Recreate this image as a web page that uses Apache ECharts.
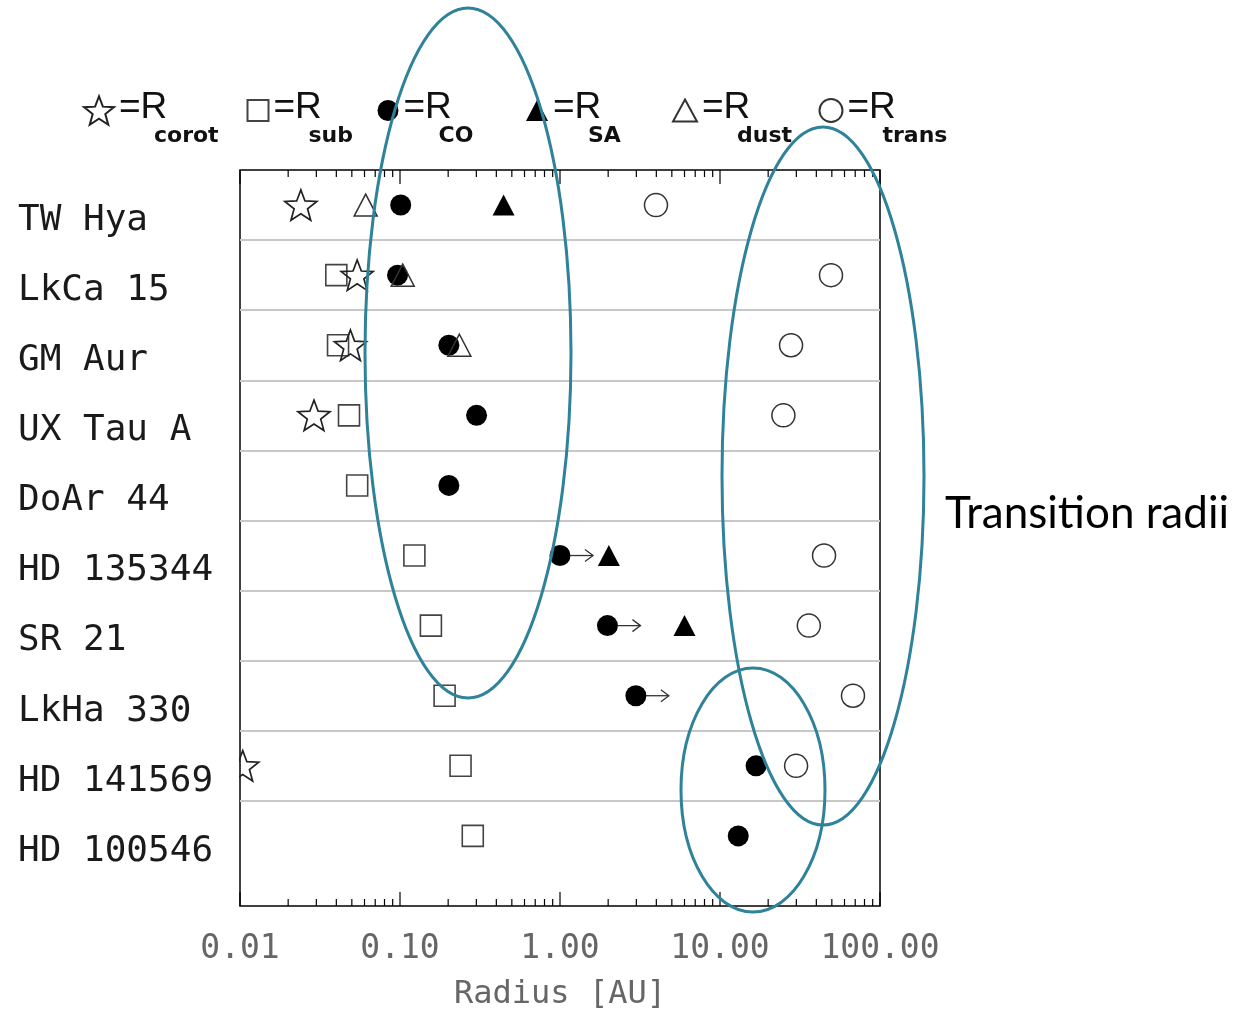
<!DOCTYPE html>
<html><head><meta charset="utf-8">
<script src="https://cdn.jsdelivr.net/npm/echarts@6/dist/echarts.min.js"></script>
<style>html,body{margin:0;padding:0;background:#fff}#c{width:1249px;height:1016px}</style>
</head><body><div id="c"></div>
<script>
// ---- data (radius in AU) ----
const stars = ['TW Hya','LkCa 15','GM Aur','UX Tau A','DoAr 44','HD 135344','SR 21','LkHa 330','HD 141569','HD 100546'];
const rCorot = [0.024, 0.054, 0.049, 0.029, null, null, null, null, 0.0104, null];
const rSub   = [null, 0.040, 0.041, 0.048, 0.054, 0.123, 0.156, 0.19, 0.239, 0.285];
const rCO    = [0.101, 0.0965, 0.202, 0.301, 0.202, 1.0, 1.98, 2.98, 16.8, 13.0];
const coLowerLimit = [false, false, false, false, false, true, true, true, false, false];
const rSA    = [0.444, null, null, null, null, 2.02, 6.0, null, null, null];
const rDust  = [0.061, 0.104, 0.235, null, null, null, null, null, null, null];
const rTrans = [3.98, 49.4, 27.8, 24.9, null, 44.7, 35.9, 67.8, 29.9, null];
const xTickLabels = ['0.01', '0.10', '1.00', '10.00', '100.00'];
const majorTicks = [0.01, 0.1, 1, 10, 100];
const decades = [0.01, 0.1, 1, 10];
const minorMult = [2, 3, 4, 5, 6, 7, 8, 9];

// ---- helpers ----
const pts = arr => arr.map((v, i) => v == null ? null : [v, i + 0.5]).filter(Boolean);
function starPath() {
  const p = [];
  for (let i = 0; i < 10; i++) {
    const r = i % 2 ? 0.42 : 1;
    const a = -Math.PI / 2 + i * Math.PI / 5;
    p.push((50 + 50 * r * Math.cos(a)).toFixed(2) + ',' + (50 + 50 * r * Math.sin(a)).toFixed(2));
  }
  return 'path://M' + p.join('L') + 'Z';
}
const STAR = starPath();
// tick marks: [value, y, length]
const tickMarks = [];
majorTicks.forEach(v => tickMarks.push([v, 0, 14]));
decades.forEach(d => minorMult.forEach(m => tickMarks.push([d * m, 0, 7])));
const arrowData = rCO.map((v, i) => coLowerLimit[i] ? [v, i + 0.5] : null).filter(Boolean);

const OPEN = 'rgba(0,0,0,0)';
const teal = '#2E8299';

const chart = echarts.init(document.getElementById('c'));

const legendDefs = [
  {name: 'corot', cx: 98,  w: 30, h: 30},
  {name: 'sub',   cx: 257, w: 21, h: 21},
  {name: 'CO',    cx: 388, w: 21, h: 21},
  {name: 'SA',    cx: 537, w: 22, h: 21},
  {name: 'dust',  cx: 684, w: 24, h: 22},
  {name: 'trans', cx: 830, w: 23, h: 23}
];
const legendRich = {
  r: {fontFamily: 'Liberation Sans', fontSize: 37, lineHeight: 52, color: '#111'},
  s: {fontFamily: 'DejaVu Sans', fontWeight: 'bold', fontSize: 22, lineHeight: 6, padding: [0, 0, 0, 35], color: '#111'}
};

chart.setOption({
  animation: false,
  backgroundColor: '#fff',
  grid: {left: 240, top: 170, width: 640, height: 737, show: true, borderColor: '#000', borderWidth: 1.5, backgroundColor: 'rgba(0,0,0,0)'},
  legend: legendDefs.map(d => ({
    data: [d.name],
    left: d.cx - d.w / 2,
    top: 89,
    padding: 0,
    itemWidth: d.w,
    itemHeight: d.h,
    selectedMode: false,
    formatter: n => '{r|=R}\n{s|' + n + '}',
    textStyle: {rich: legendRich}
  })),
  xAxis: {
    type: 'log', logBase: 10, min: 0.01, max: 100, position: 'bottom',
    axisLine: {show: false},
    axisTick: {show: false},
    splitLine: {show: false},
    axisLabel: {
      margin: 27, fontFamily: 'DejaVu Sans Mono', fontSize: 33, color: '#666',
      formatter: v => xTickLabels[Math.round(Math.log10(v)) + 2]
    },
    name: 'Radius [AU]', nameLocation: 'middle', nameGap: 73,
    nameTextStyle: {fontFamily: 'DejaVu Sans Mono', fontSize: 32, color: '#666'}
  },
  yAxis: [{
    type: 'value', inverse: true, min: 0, max: 10.5, interval: 1,
    axisLine: {show: false}, axisTick: {show: false}, axisLabel: {show: false},
    splitLine: {show: true, showMinLine: false, showMaxLine: false,
      lineStyle: {color: ['#c8c8c8','#c8c8c8','#c8c8c8','#c8c8c8','#c8c8c8','#c8c8c8','#c8c8c8','#c8c8c8','#c8c8c8', OPEN], width: 2}}
  }, {
    type: 'value', inverse: true, min: 0, max: 10.5, interval: 0.5, position: 'left',
    axisLine: {show: false}, axisTick: {show: false}, splitLine: {show: false},
    axisLabel: {
      align: 'left', verticalAlign: 'top', lineHeight: 31, margin: 222,
      fontFamily: 'DejaVu Sans Mono', fontSize: 36, color: '#1a1a1a',
      formatter: v => {
        const k = Math.round(v - 0.5);
        return (Math.abs(v - 0.5 - k) < 1e-6 && k >= 0 && k < stars.length) ? stars[k] : '';
      }
    }
  }],
  series: [
    {name: 'sub', type: 'scatter', data: pts(rSub), symbol: 'rect', symbolSize: 21,
     itemStyle: {color: OPEN, borderColor: '#444', borderWidth: 1.6, opacity: 1}},
    {name: 'corot', type: 'scatter', data: pts(rCorot), symbol: STAR, symbolSize: 32, symbolKeepAspect: true,
     itemStyle: {color: OPEN, borderColor: '#222', borderWidth: 1.7, opacity: 1}},
    {name: 'CO', type: 'scatter', data: pts(rCO), symbol: 'circle', symbolSize: 21,
     itemStyle: {color: '#000', opacity: 1}},
    {name: 'dust', type: 'scatter', data: pts(rDust), symbol: 'triangle', symbolSize: [23, 22],
     itemStyle: {color: OPEN, borderColor: '#333', borderWidth: 1.5, opacity: 1}},
    {name: 'SA', type: 'scatter', data: pts(rSA), symbol: 'triangle', symbolSize: [22, 21],
     itemStyle: {color: '#000', opacity: 1}},
    {name: 'trans', type: 'scatter', data: pts(rTrans), symbol: 'circle', symbolSize: 23,
     itemStyle: {color: OPEN, borderColor: '#333', borderWidth: 1.5, opacity: 1}},
    {type: 'custom', silent: true, data: arrowData, encode: {x: 0, y: 1}, z: 3,
     renderItem: (params, api) => {
       const p = api.coord([api.value(0), api.value(1)]);
       const x0 = p[0] + 10, x1 = p[0] + 33, y = p[1];
       return {type: 'group', children: [
         {type: 'line', shape: {x1: x0, y1: y, x2: x1, y2: y}, style: {stroke: '#333', lineWidth: 1.3}},
         {type: 'polyline', shape: {points: [[x1 - 8, y - 6], [x1, y], [x1 - 8, y + 6]]}, style: {stroke: '#333', fill: null, lineWidth: 1.3}}
       ]};
     }},
    {type: 'custom', silent: true, data: tickMarks, encode: {x: 0, y: 1}, z: 3, clip: false,
     renderItem: (params, api) => {
       const p = api.coord([api.value(0), 0]);
       const len = api.value(2);
       const cs = params.coordSys;
       const b = cs.y + cs.height;
       return {type: 'group', children: [
         {type: 'line', shape: {x1: p[0], y1: b, x2: p[0], y2: b - len}, style: {stroke: '#000', lineWidth: 1.2}},
         {type: 'line', shape: {x1: p[0], y1: cs.y, x2: p[0], y2: cs.y + len}, style: {stroke: '#000', lineWidth: 1.2}}
       ]};
     }}
  ],
  graphic: [
    {type: 'rect', z: 5, silent: true, shape: {x: 224, y: 745, width: 15, height: 45}, style: {fill: '#fff'}},
    {type: 'ellipse', z: 10, silent: true, shape: {cx: 468, cy: 353, rx: 103, ry: 345}, style: {fill: 'none', stroke: teal, lineWidth: 3}},
    {type: 'ellipse', z: 10, silent: true, shape: {cx: 823, cy: 476, rx: 101, ry: 349}, style: {fill: 'none', stroke: teal, lineWidth: 3}},
    {type: 'ellipse', z: 10, silent: true, shape: {cx: 753, cy: 790, rx: 72, ry: 122}, style: {fill: 'none', stroke: teal, lineWidth: 3}},
    {type: 'text', z: 10, silent: true, style: {text: 'Transition radii', x: 945, y: 514, font: '44px Lato', fill: '#000', verticalAlign: 'middle'}}
  ]
});
</script>
</body></html>
